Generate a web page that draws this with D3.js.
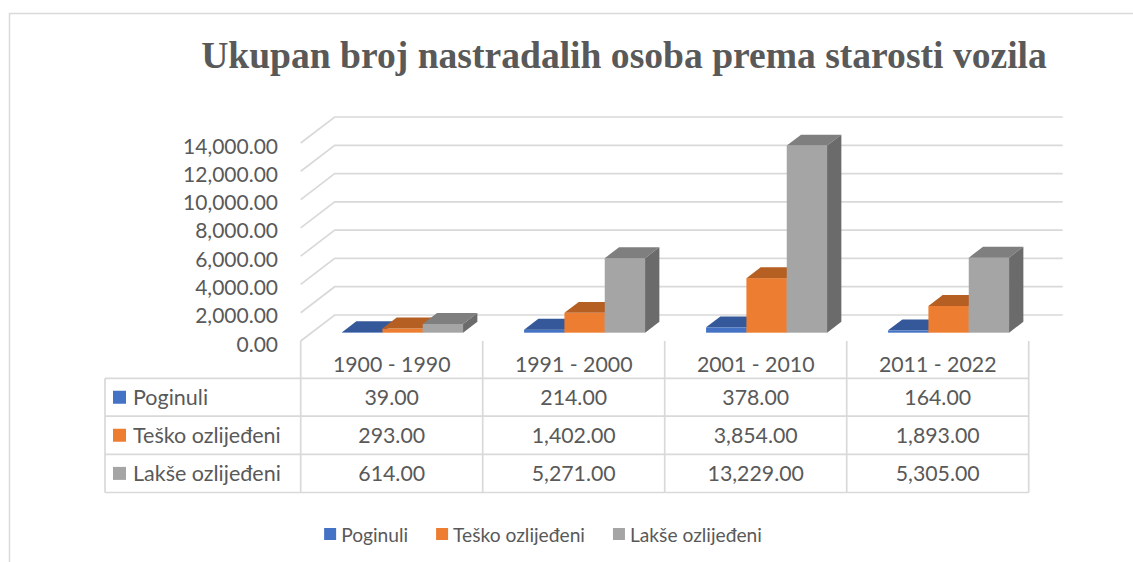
<!DOCTYPE html>
<html>
<head>
<meta charset="utf-8">
<script src="https://cdn.jsdelivr.net/npm/d3@7"></script>
<style>
  html, body { margin: 0; padding: 0; background: #fff; }
  svg { display: block; }
</style>
</head>
<body>
<svg id="chart" width="1133" height="562"></svg>
<script>
// Age groups of vehicles (categories)
const categories = ["1900 - 1990", "1991 - 2000", "2001 - 2010", "2011 - 2022"];
// Series names
const seriesNames = ["Poginuli", "Teško ozlijeđeni", "Lakše ozlijeđeni"];
// Series values per category
const poginuli = [39, 214, 378, 164];
const teskoOzlijedeni = [293, 1402, 3854, 1893];
const lakseOzlijedeni = [614, 5271, 13229, 5305];
// Value axis ticks
const yTicks = [0, 2000, 4000, 6000, 8000, 10000, 12000, 14000];

const seriesValues = [poginuli, teskoOzlijedeni, lakseOzlijedeni];
const frontColors = ["#4472C4", "#ED7D31", "#A5A5A5"];
const topColors = ["#34589A", "#B65F22", "#7F7F7F"];
const sideColors = ["#2E4E88", "#A6561E", "#6B6B6B"];

const svg = d3.select("#chart");
const textColor = "#595959";
const gridColor = "#d9d9d9";
const font = "Lato, 'Open Sans', sans-serif";
const fmt = d3.format(",.2f");

// Outer chart frame
svg.append("path")
  .attr("d", "M9.5,562 L9.5,13.5 L1133,13.5")
  .attr("fill", "none").attr("stroke", gridColor).attr("stroke-width", 1.5);

// Title
svg.append("text")
  .attr("x", 624).attr("y", 68)
  .attr("text-anchor", "middle")
  .attr("font-family", "'Liberation Serif', 'Times New Roman', serif")
  .attr("font-weight", "bold")
  .attr("font-size", 37.6)
  .attr("fill", textColor)
  .text("Ukupan broj nastradalih osoba prema starosti vozila");

// 3D plot geometry: front plane plus a receding depth vector
const plotLeft = 300.7, plotRight = 1028.7, floorY = 341;
const depth = { dx: 34, dy: -26 };

const x = d3.scaleBand().domain(categories).range([plotLeft, plotRight]);
const y = d3.scaleLinear().domain([0, 14000]).range([floorY, floorY - 198]);
const inner = d3.scaleBand().domain(d3.range(3)).range([0, 121]);

// Gridlines: diagonal on the side wall, then horizontal on the back wall
const grid = svg.append("g");
yTicks.forEach(t => {
  const fy = y(t);
  grid.append("path")
    .attr("d", `M${plotLeft},${fy} L${plotLeft + depth.dx},${fy + depth.dy} L${plotRight + depth.dx},${fy + depth.dy}`)
    .attr("fill", "none").attr("stroke", gridColor).attr("stroke-width", 1.7);
});

// Value axis labels
svg.append("g").selectAll("text").data(yTicks).join("text")
  .attr("x", 278).attr("y", d => y(d) + 2)
  .attr("text-anchor", "end").attr("dominant-baseline", "central")
  .attr("font-family", font).attr("font-size", 21).attr("fill", textColor)
  .text(d => fmt(d));

// 3D columns
const f0 = 0.32, fd = 0.42;           // front position and thickness as fractions of depth
const ox = depth.dx * f0, oy = depth.dy * f0;
const bx = depth.dx * fd, by = depth.dy * fd;
const bars = svg.append("g");
categories.forEach((c, ci) => {
  const cx0 = x(c) + (x.bandwidth() - 121) / 2;
  seriesValues.forEach((vals, si) => {
    const v = vals[ci];
    const x0 = cx0 + inner(si) + ox, x1 = x0 + inner.bandwidth();
    const yb = y(0) + oy, yt = y(v) + oy;
    const g = bars.append("g");
    g.append("rect").attr("x", x0).attr("y", yt).attr("width", x1 - x0).attr("height", yb - yt)
      .attr("fill", frontColors[si]);
    g.append("path")
      .attr("d", `M${x0},${yt} L${x0 + bx},${yt + by} L${x1 + bx},${yt + by} L${x1},${yt} Z`)
      .attr("fill", topColors[si]);
    g.append("path")
      .attr("d", `M${x1},${yt} L${x1 + bx},${yt + by} L${x1 + bx},${yb + by} L${x1},${yb} Z`)
      .attr("fill", sideColors[si]);
  });
});

// Data table below the plot
const rowTop = [341, 378.3, 416.2, 454.3, 492.5];
const tableLeft = 105;
const table = svg.append("g").attr("stroke", gridColor).attr("stroke-width", 1.7).attr("fill", "none");
rowTop.slice(1).forEach(ry => {
  table.append("line").attr("x1", tableLeft).attr("x2", plotRight).attr("y1", ry).attr("y2", ry);
});
table.append("line").attr("x1", tableLeft).attr("x2", tableLeft).attr("y1", rowTop[1]).attr("y2", rowTop[4]);
categories.forEach(c => {
  table.append("line").attr("x1", x(c)).attr("x2", x(c)).attr("y1", rowTop[0]).attr("y2", rowTop[4]);
});
table.append("line").attr("x1", plotRight).attr("x2", plotRight).attr("y1", rowTop[0]).attr("y2", rowTop[4]);

// Category headers
svg.append("g").selectAll("text").data(categories).join("text")
  .attr("x", d => x(d) + x.bandwidth() / 2).attr("y", 364)
  .attr("text-anchor", "middle").attr("dominant-baseline", "central")
  .attr("font-family", font).attr("font-size", 21.3).attr("fill", textColor)
  .text(d => d);

// Table rows: legend key, series name, values
seriesNames.forEach((name, si) => {
  const cy = (rowTop[si + 1] + rowTop[si + 2]) / 2;
  svg.append("rect").attr("x", 113).attr("y", cy - 6.5).attr("width", 13).attr("height", 13)
    .attr("fill", frontColors[si]);
  svg.append("text").attr("x", 133).attr("y", cy)
    .attr("dominant-baseline", "central")
    .attr("font-family", font).attr("font-size", 21.5).attr("fill", textColor)
    .text(name);
  seriesValues[si].forEach((v, ci) => {
    svg.append("text")
      .attr("x", x(categories[ci]) + x.bandwidth() / 2).attr("y", cy)
      .attr("text-anchor", "middle").attr("dominant-baseline", "central")
      .attr("font-family", font).attr("font-size", 21.3).attr("fill", textColor)
      .text(fmt(v));
  });
});

// Bottom legend, centred
const legend = svg.append("g");
let lx = 0;
seriesNames.forEach((name, si) => {
  const item = legend.append("g").attr("transform", `translate(${lx},0)`);
  item.append("rect").attr("x", 0).attr("y", -6).attr("width", 12).attr("height", 12)
    .attr("fill", frontColors[si]);
  const t = item.append("text").attr("x", 17).attr("y", 0)
    .attr("dominant-baseline", "central")
    .attr("font-family", font).attr("font-size", 19.2).attr("fill", textColor)
    .text(name);
  lx += 17 + t.node().getComputedTextLength() + 28;
});
const legendWidth = lx - 28;
legend.attr("transform", `translate(${543 - legendWidth / 2},534)`);
</script>
</body>
</html>
